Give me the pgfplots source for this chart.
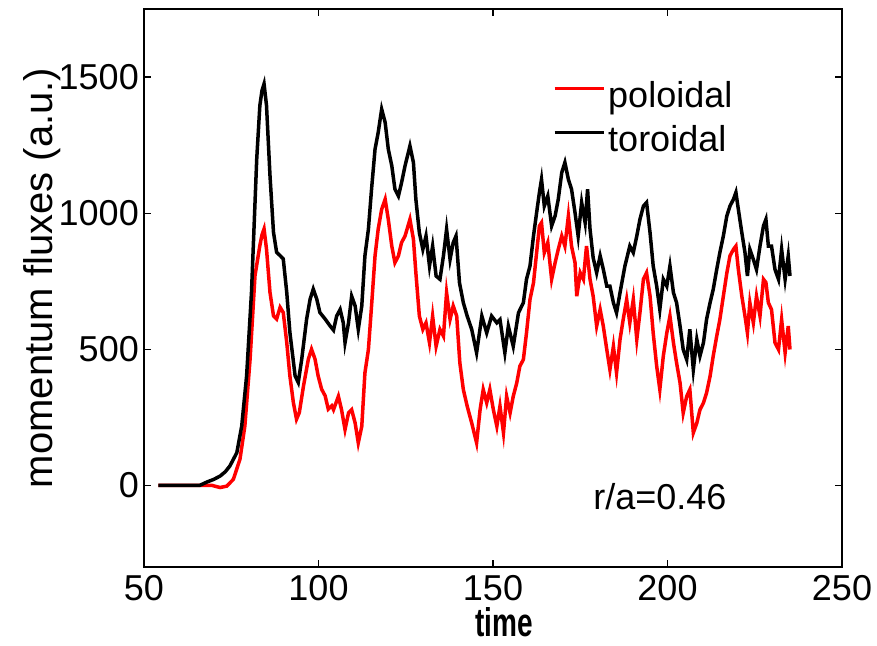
\documentclass[border=0pt]{standalone}
\usepackage{fontspec}
\setmainfont{Liberation Sans}
\usepackage{pgfplots}
\pgfplotsset{compat=1.18}
\begin{document}
\begin{tikzpicture}
\begin{axis}[
  at={(0,0)}, anchor=south west,
  scale only axis, width=698bp, height=558bp,
  xmin=50, xmax=250, ymin=-300, ymax=1750,
  xtick={50,100,150,200,250}, ytick={0,500,1000,1500},
  tick align=inside, major tick length=7bp,
  axis line style={line width=1.1bp},
  every tick/.style={black, line width=1.1bp},
  /pgf/number format/assume math mode=true,
  /pgf/number format/1000 sep={},
  tick label style={font=\fontsize{36bp}{43bp}\selectfont},
  yticklabel style={inner sep=0pt, xshift=-5bp},
  xticklabel style={inner sep=0pt, yshift=-8bp},
  xlabel={\scalebox{0.7}[1]{\bfseries time}},
  ylabel={momentum fluxes (a.u.)},
  xlabel style={font=\fontsize{40bp}{48bp}\selectfont, at={(axis description cs:0.516,-0.099)}, anchor=center, inner sep=0pt},
  ylabel style={font=\fontsize{40bp}{48bp}\selectfont, at={(axis description cs:-0.146,0.518)}, anchor=center, inner sep=0pt},
  legend cell align=left,
  legend style={draw=none, fill=none, at={(axis description cs:0.586,0.87)}, anchor=north west,
    inner sep=0pt, font=\fontsize{36bp}{43bp}\selectfont,
    nodes={inner sep=0pt},
    /tikz/column sep=3bp, /tikz/row sep=16bp},
  legend image code/.code={\draw[#1, line width=3bp] (0bp,7bp) -- (49bp,7bp);},
]
\addplot[red, line width=3.5bp] coordinates {
(54.1,0) (60,0) (69.4,0) (71.8,-8) (73.7,-3) (75.6,22) (77.5,96) (78.9,218) (80.4,464) (81.8,770)
(83.2,881) (83.8,920) (84.4,942) (85.1,868) (86.1,709) (87.1,623) (88,611) (89,654) (89.9,635) (90.9,525)
(91.8,402) (92.8,304) (93.7,243) (94.5,267) (95.7,365) (97.1,464) (98,500) (99,464) (99.9,402) (100.9,353)
(101.9,329) (102.8,280) (103.8,292) (104.3,278) (105.7,327) (106.6,278) (107.6,205) (108.6,266) (109.5,278) (110.5,229)
(111.4,156) (112.4,217) (113.3,413) (114.3,499) (115.2,659) (116.2,843) (117.1,941) (118.1,1014) (119.1,1051) (120,977)
(121,879) (121.9,818) (122.9,843) (123.8,892) (124.8,916) (126.2,977) (127.2,904) (127.9,781) (128.9,622) (129.9,573)
(130.8,597) (131.8,524) (132.7,622) (133.7,511) (134.8,573) (135.8,548) (136.7,708) (137.7,610) (138.6,659) (139.6,622)
(140.5,450) (141.5,352) (142.6,291) (143.9,229) (145.3,156) (146.3,278) (147.2,352) (148.2,303) (149.1,352) (150.1,278)
(151.1,217) (152,291) (153,193) (153.9,327) (154.9,266) (155.8,327) (156.8,376) (157.7,438) (158.7,462) (159.6,560)
(160.6,683) (161.6,744) (162.5,855) (163.3,953) (163.9,965) (164.7,855) (165.7,892) (166.8,757) (167.8,818) (168.7,867)
(169.7,916) (170.6,879) (171.6,990) (172.5,879) (173.5,818) (174,695) (175,781) (175.9,757) (176.8,879) (177.8,757)
(178.7,695) (179.7,585) (180.7,646) (181.6,585) (182.6,499) (183.5,425) (184.5,511) (185.4,413) (186.4,536) (187.3,609)
(188.3,683) (189.2,597) (190.2,683) (191.2,536) (192.1,634) (193.1,757) (194,781) (195,695) (195.9,560) (196.9,438)
(197.8,352) (198.8,475) (199.8,560) (200.7,622) (201.7,524) (202.6,450) (203.6,376) (204.5,266) (205.5,327) (206.4,352)
(207.4,193) (208.4,229) (209.3,278) (210.3,303) (211.2,340) (212.2,401) (213.1,475) (214.1,548) (215,609) (216,695)
(217,780) (217.9,843) (218.9,867) (219.6,879) (220.3,793) (221.3,695) (222.2,622) (222.9,560) (223.6,671) (224.6,597)
(225.5,695) (226.5,622) (227.5,757) (228.2,745) (228.9,671) (229.8,646) (230.8,524) (231.8,499) (232.7,609) (233.7,487)
(234.6,585) (235.1,499)
};
\addlegendentry{poloidal}
\addplot[black, line width=3.5bp] coordinates {
(54.1,0) (60,0) (66,0) (68,12) (70,22) (71.8,34) (73.3,50) (74.6,71) (76.6,120) (78,218)
(79.4,402) (80.8,709) (82.3,1199) (83.2,1396) (83.8,1450) (84.4,1475) (85.1,1396) (86.1,1138) (87.1,930) (88,856)
(89,844) (89.9,832) (90.9,709) (91.8,562) (93.3,402) (94.2,378) (95.2,464) (96.6,611) (97.6,684) (98.5,721)
(99.5,684) (100.4,635) (101.9,611) (103.3,586) (104.3,570) (105.2,622) (106.2,646) (107.1,597) (107.6,524) (108.6,597)
(109.5,695) (110.5,659) (111.4,573) (112.4,659) (113.3,843) (114.3,941) (115.2,1088) (116.2,1235) (117.1,1296) (118.1,1382)
(119.1,1333) (120,1235) (121,1174) (121.9,1088) (122.9,1063) (123.8,1112) (124.8,1174) (126.2,1247) (127.2,1186) (127.9,1051)
(128.9,928) (129.9,867) (130.8,916) (131.8,806) (132.7,879) (133.7,769) (134.8,757) (135.8,843) (136.7,941) (137.7,830)
(138.6,892) (139.4,916) (140.4,744) (141.5,671) (142.6,622) (143.9,573) (145.3,487) (146.8,622) (148.2,560) (149.6,622)
(151.1,597) (152,609) (153.4,487) (154.4,585) (155.8,511) (157.3,634) (158.7,671) (159.6,757) (160.6,806) (161.6,916)
(162.5,1002) (163.3,1076) (163.9,1124) (164.7,1026) (165.7,1063) (166.8,953) (167.8,990) (168.7,1051) (169.7,1149) (170.6,1186)
(171.6,1124) (172.5,1088) (173.5,1002) (174.4,916) (175.4,1039) (176.4,965) (177.1,1088) (177.8,941) (178.7,836) (179.7,781)
(180.7,843) (181.6,794) (182.6,732) (183.5,732) (184.5,671) (185.4,634) (186.4,708) (187.8,806) (189.2,879) (190.2,855)
(191.2,916) (192.1,977) (193.1,1026) (194,1039) (195,928) (195.9,806) (196.9,732) (197.8,646) (198.8,757) (199.8,732)
(200.7,806) (201.7,708) (202.6,671) (203.6,585) (204.5,499) (205.5,462) (206.4,573) (207.4,425) (208.4,536) (209.3,475)
(210.3,524) (211.2,610) (212.2,671) (213.1,720) (214.1,793) (215,855) (216,916) (217,990) (217.9,1026) (218.9,1051)
(219.6,1076) (220.3,1014) (221.3,928) (222.2,855) (222.9,769) (223.6,867) (224.6,830) (225.5,793) (226.5,879) (227.5,953)
(228.2,977) (228.9,879) (229.8,879) (230.8,793) (231.8,757) (232.7,867) (233.7,757) (234.6,843) (235.1,769)
};
\addlegendentry{toroidal}
\node[font=\fontsize{36bp}{43bp}\selectfont, anchor=center] at (axis cs:197.8,-42) {r/a=0.46};
\end{axis}
\pgfresetboundingbox
\path[use as bounding box] (-144bp,-79bp) rectangle (733bp,567bp);
\end{tikzpicture}
\end{document}
